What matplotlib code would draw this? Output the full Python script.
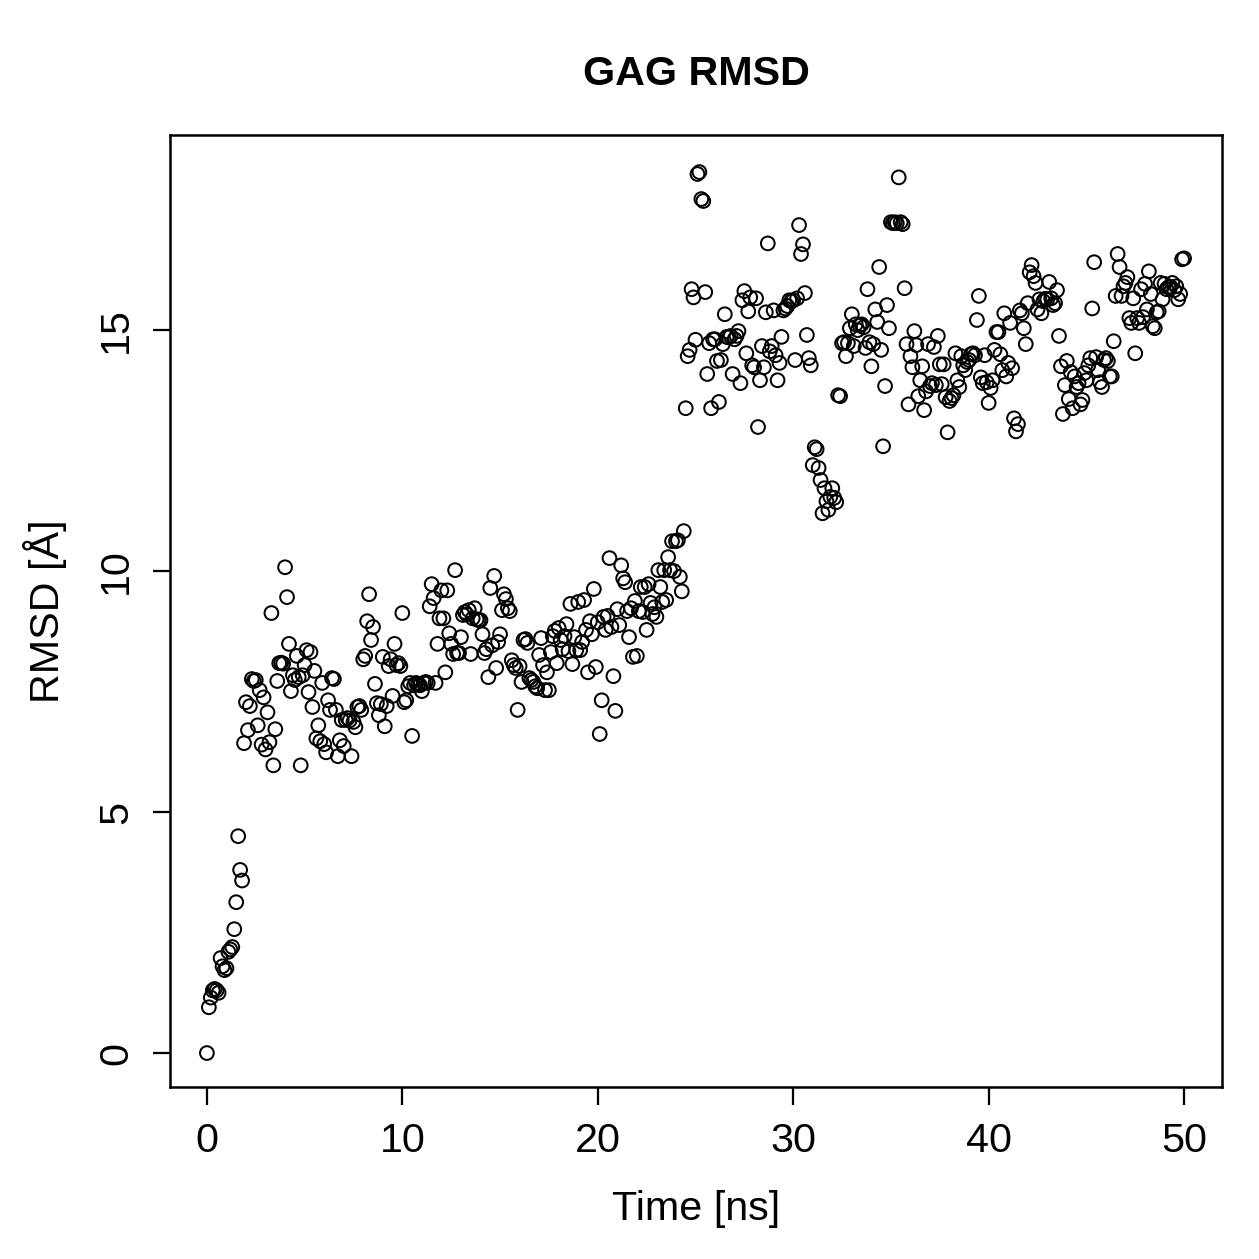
import numpy as np
import matplotlib
matplotlib.use('Agg')
import matplotlib.pyplot as plt

rmsd_0_2 = [0.0, 0.95, 1.15, 1.3, 1.33, 1.3, 1.25, 1.97, 1.8, 1.72, 1.76, 2.1, 2.15, 2.2,
            2.57, 3.13, 4.5, 3.8, 3.58]
rmsd_2_8 = [6.43, 7.28, 6.7, 7.2, 7.76, 7.72, 7.74, 6.8, 7.53, 6.4, 7.38, 6.3, 7.07, 6.45,
            9.13, 5.97, 6.72, 7.72, 8.09, 8.1, 8.08, 10.08, 9.46, 8.49, 7.51, 7.84, 7.74,
            8.24, 7.8, 5.97, 7.84, 8.05, 8.36, 7.49, 8.32, 7.18, 7.93, 6.53, 6.8, 6.47,
            7.68, 6.41, 6.24, 7.32, 7.12, 7.78, 7.76, 7.12, 6.16, 6.49, 6.91, 6.37, 6.91,
            6.95, 6.9, 6.16, 6.87, 6.76, 7.18, 7.2, 7.12]
rmsd_8_15 = [8.17, 8.24, 8.96, 9.52, 8.57, 8.84, 7.66, 7.26, 7.01, 7.24, 8.22, 6.78, 7.2,
             8.03, 8.17, 7.41, 8.49, 8.05, 8.09, 8.03, 9.13, 7.28, 7.32, 7.61, 7.68, 6.58,
             7.63, 7.68, 7.65, 7.63, 7.51, 7.68, 7.7, 7.68, 9.27, 9.73, 9.44, 7.68, 8.49,
             9.02, 9.6, 9.02, 7.9, 9.6, 8.71, 8.49, 8.28, 10.02, 8.3, 8.3, 8.63, 9.09, 9.15,
             9.1, 9.19, 8.28, 9.02, 9.23, 9.0, 8.98, 8.98, 8.69, 8.3, 8.38, 7.8, 9.65, 8.46,
             9.9, 7.99, 8.53, 8.69, 9.19, 9.52, 9.42, 9.23, 9.17]
rmsd_15_20 = [8.15, 8.05, 7.99, 7.12, 8.03, 7.7, 8.57, 8.59, 8.51, 7.78, 7.74, 7.7, 7.61,
              7.57, 8.26, 8.61, 8.05, 7.53, 7.9, 7.53, 8.32, 8.65, 8.76, 8.09, 8.82, 8.57,
              8.38, 8.65, 8.9, 8.34, 9.32, 8.07, 8.63, 8.36, 9.36, 8.36, 8.53, 9.4, 8.78,
              7.9, 8.96, 8.69, 9.63, 8.01, 8.94]
rmsd_20_25 = [6.62, 7.32, 9.05, 8.78, 9.07, 10.27, 8.84, 7.82, 7.1, 9.21, 8.88, 10.12,
              9.85, 9.77, 9.17, 8.63, 9.23, 8.22, 9.38, 8.24, 9.17, 9.67, 9.15, 9.67, 8.78,
              9.73, 9.34, 9.11, 9.25, 9.05, 10.02, 9.67, 9.36, 10.02, 9.4, 10.29, 10.02,
              10.62, 10.0, 10.62, 10.64, 9.88, 9.58, 10.83]
rmsd_25_31 = [13.38, 14.46, 14.59, 15.85, 15.68, 14.8, 18.24, 18.28, 17.72, 17.68, 15.79,
              14.09, 14.73, 13.38, 14.81, 14.81, 14.36, 13.51, 14.38, 14.71, 15.33, 14.86,
              14.85, 14.88, 14.09, 14.81, 14.88, 14.98, 13.9, 15.62, 15.81, 14.52, 15.39,
              15.68, 14.27, 14.23, 15.66, 12.99, 13.96, 14.67, 14.23, 15.37, 16.8, 14.56,
              14.67, 15.41, 14.48, 13.96, 14.32, 14.86, 15.41, 15.45, 15.5, 15.62, 15.6,
              15.62, 14.38, 15.66, 17.18, 16.58, 16.78, 15.77, 14.9, 14.42, 14.27]
rmsd_31_37 = [12.2, 12.57, 12.53, 12.14, 11.89, 11.2, 11.72, 11.45, 11.27, 11.54, 11.72,
              11.52, 11.43, 13.65, 13.63, 14.73, 14.75, 14.46, 14.73, 15.04, 15.33, 14.67,
              15.12, 15.0, 15.1, 15.12, 15.06, 14.63, 15.85, 14.75, 14.25, 14.71, 15.43,
              15.17, 16.31, 14.59, 12.59, 13.84, 15.52, 15.04, 17.24, 17.22, 17.24, 17.22,
              18.17, 17.24, 17.2, 15.87, 14.71, 13.46, 14.46, 14.23, 14.98, 14.69, 13.63,
              13.96, 14.25]
rmsd_37_44 = [13.34, 13.73, 14.71, 13.84, 13.9, 14.65, 13.86, 14.88, 14.29, 13.88, 14.29,
              13.61, 12.88, 13.53, 13.59, 13.65, 14.52, 13.96, 13.82, 14.46, 14.27, 14.17,
              14.34, 14.38, 14.5, 14.52, 14.48, 15.21, 15.71, 14.02, 13.9, 14.48, 13.92,
              13.49, 13.8, 13.96, 14.59, 14.96, 14.96, 14.5, 14.17, 15.35, 14.04, 14.32,
              15.15, 14.21, 13.17, 12.9, 13.05, 15.41, 15.35, 15.04, 14.71, 15.56, 16.2,
              16.35, 16.12, 15.98, 15.43, 15.64, 15.35, 15.6, 15.65, 15.64, 16.0, 15.66,
              15.52, 15.56, 15.83, 14.88]
rmsd_44_50 = [14.25, 13.26, 13.86, 14.36, 13.57, 14.13, 13.38, 14.04, 13.82, 13.9, 13.46,
              13.55, 14.11, 13.96, 14.27, 14.42, 15.45, 16.41, 14.44, 14.17, 13.92, 13.82,
              14.38, 14.42, 14.36, 14.04, 14.04, 14.77, 15.71, 16.58, 16.31, 15.71, 15.91,
              15.98, 16.1, 15.25, 15.15, 15.66, 14.52, 15.25, 15.15, 15.85, 15.27, 15.96,
              15.43, 16.22, 15.75, 15.08, 15.04, 15.37, 15.39, 15.98, 15.64, 15.96, 15.85,
              15.89, 15.9, 15.98, 15.83, 15.91, 15.64, 15.75, 16.47, 16.49]

rmsd = np.array(rmsd_0_2 + rmsd_2_8 + rmsd_8_15 + rmsd_15_20 + rmsd_20_25 +
                rmsd_25_31 + rmsd_31_37 + rmsd_37_44 + rmsd_44_50)
time_ns = np.linspace(0, 50, len(rmsd))

plt.rcParams['font.family'] = ['Liberation Sans', 'DejaVu Sans']

fig = plt.figure(figsize=(1259 / 180, 1259 / 180), dpi=180)
ax = fig.add_axes([0.135, 0.1366, 0.8356, 0.7562])

ax.scatter(time_ns, rmsd, s=30, facecolors='none', edgecolors='black', linewidths=0.8)

ax.set_xlim(-1.89, 51.94)
ax.set_ylim(-0.705, 19.05)
ax.set_xticks([0, 10, 20, 30, 40, 50])
ax.set_yticks([0, 5, 10, 15])
ax.tick_params(direction='out', length=7, width=0.9, labelsize=16.5, pad=7)
for lab in ax.get_yticklabels():
    lab.set_rotation(90)
    lab.set_va('center')
for sp in ax.spines.values():
    sp.set_linewidth(1.0)

ax.set_xlabel('Time [ns]', fontsize=16.5, labelpad=12)
ax.set_ylabel('RMSD [Å]', fontsize=16.5, labelpad=12)
ax.set_title('GAG RMSD', fontsize=16.5, fontweight='bold', pad=20)

fig.savefig('out.png', dpi=180)
